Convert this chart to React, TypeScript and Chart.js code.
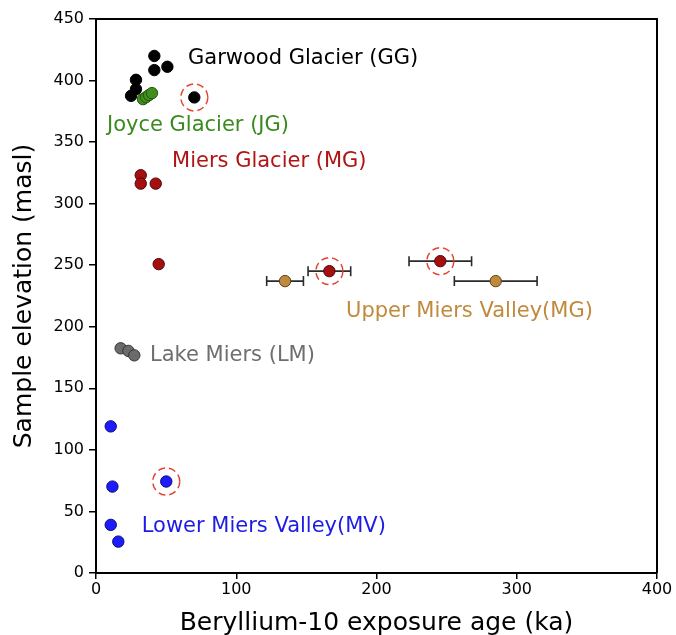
import React, { useEffect, useRef } from "react";
import { Chart, registerables } from "chart.js";

Chart.register(...registerables);

// ---- Data (Beryllium-10 exposure age in ka, sample elevation in masl) ----
const ggAge = [41.6, 41.6, 50.9, 28.5, 28.5, 25.0, 70.1];
const ggElev = [420.0, 408.5, 411.2, 400.6, 393.0, 387.6, 386.3];

const jgAge = [33.5, 35.7, 37.8, 39.9];
const jgElev = [384.9, 386.5, 388.2, 389.8];

const mgAge = [31.9, 31.9, 42.6, 44.7, 166.4, 245.5];
const mgElev = [323.1, 316.3, 316.3, 250.9, 245.2, 253.3];
const mgErr = [0, 0, 0, 0, 15.2, 22.3];

const umvAge = [134.8, 285.0];
const umvElev = [237.1, 237.1];
const umvErr = [13.1, 29.5];

const lmAge = [17.6, 23.1, 27.3];
const lmElev = [182.5, 180.4, 176.8];

const mvAge = [10.5, 11.7, 50.1, 10.5, 15.9];
const mvElev = [119.1, 70.2, 74.3, 39.1, 25.5];

// highlighted (dashed circle) samples: [series, index]
const highlighted: [string, number][] = [
  ["GG", 6],
  ["MG", 4],
  ["MG", 5],
  ["MV", 2],
];

// annotation labels, anchored at (age, elevation) = left end of the text baseline
const labelTexts = [
  "Garwood Glacier (GG)",
  "Joyce Glacier (JG)",
  "Miers Glacier (MG)",
  "Upper Miers Valley(MG)",
  "Lake Miers (LM)",
  "Lower Miers Valley(MV)",
];
const labelAge = [65.6, 7.8, 54.2, 178.3, 38.5, 32.6];
const labelElev = [413.4, 359.1, 329.6, 208.1, 172.0, 33.2];
const labelColors = ["#000000", "#3a8a1e", "#b01414", "#c08a3c", "#6e6e6e", "#1c1ce6"];

const xTitle = "Beryllium-10 exposure age (ka)";
const yTitle = "Sample elevation (masl)";

const FONT = "'DejaVu Sans', Verdana, sans-serif";

const series: Record<string, { age: number[]; elev: number[] }> = {
  GG: { age: ggAge, elev: ggElev },
  JG: { age: jgAge, elev: jgElev },
  MG: { age: mgAge, elev: mgElev },
  UMV: { age: umvAge, elev: umvElev },
  LM: { age: lmAge, elev: lmElev },
  MV: { age: mvAge, elev: mvElev },
};

const toPts = (a: number[], e: number[]) => a.map((v, i) => ({ x: v, y: e[i] }));

const errorBars: { age: number[]; elev: number[]; err: number[] }[] = [
  { age: mgAge, elev: mgElev, err: mgErr },
  { age: umvAge, elev: umvElev, err: umvErr },
];

const overlayPlugin = {
  id: "overlay",
  beforeDatasetsDraw(chart: any) {
    const { ctx, scales } = chart;
    const x = scales.x;
    const y = scales.y;
    ctx.save();
    ctx.strokeStyle = "#2a2a2a";
    ctx.lineWidth = 1.6;
    errorBars.forEach((s) => {
      s.age.forEach((a, i) => {
        const e = s.err[i];
        if (!e) return;
        const py = y.getPixelForValue(s.elev[i]);
        const x1 = x.getPixelForValue(a - e);
        const x2 = x.getPixelForValue(a + e);
        ctx.beginPath();
        ctx.moveTo(x1, py);
        ctx.lineTo(x2, py);
        ctx.moveTo(x1, py - 5);
        ctx.lineTo(x1, py + 5);
        ctx.moveTo(x2, py - 5);
        ctx.lineTo(x2, py + 5);
        ctx.stroke();
      });
    });
    ctx.restore();
  },
  afterDatasetsDraw(chart: any) {
    const { ctx, scales, chartArea } = chart;
    const x = scales.x;
    const y = scales.y;
    ctx.save();
    // frame top and right
    ctx.strokeStyle = "#000";
    ctx.lineWidth = 2;
    ctx.beginPath();
    ctx.moveTo(chartArea.left, chartArea.top);
    ctx.lineTo(chartArea.right, chartArea.top);
    ctx.lineTo(chartArea.right, chartArea.bottom);
    ctx.stroke();

    // dashed highlight circles
    ctx.strokeStyle = "#e4432f";
    ctx.lineWidth = 1.5;
    ctx.setLineDash([7, 4]);
    highlighted.forEach(([k, i]) => {
      const s = series[k];
      const px = x.getPixelForValue(s.age[i]);
      const py = y.getPixelForValue(s.elev[i]);
      ctx.beginPath();
      ctx.arc(px, py, 13.5, 0, Math.PI * 2);
      ctx.stroke();
    });
    ctx.setLineDash([]);

    // annotation labels
    ctx.font = `21px ${FONT}`;
    ctx.textBaseline = "alphabetic";
    ctx.textAlign = "left";
    labelTexts.forEach((t, i) => {
      ctx.fillStyle = labelColors[i];
      ctx.fillText(t, x.getPixelForValue(labelAge[i]), y.getPixelForValue(labelElev[i]));
    });

    // axis titles
    ctx.fillStyle = "#000";
    ctx.font = `25px ${FONT}`;
    ctx.textAlign = "center";
    ctx.fillText(xTitle, (chartArea.left + chartArea.right) / 2, 630);
    ctx.save();
    ctx.translate(31, (chartArea.top + chartArea.bottom) / 2);
    ctx.rotate(-Math.PI / 2);
    ctx.fillText(yTitle, 0, 0);
    ctx.restore();
    ctx.restore();
  },
};

function mkSet(label: string, a: number[], e: number[], bg: string, bd: string) {
  return {
    label,
    data: toPts(a, e),
    backgroundColor: bg,
    borderColor: bd,
    borderWidth: 1,
    pointRadius: 5.7,
    pointHoverRadius: 5.7,
    showLine: false,
  };
}

export default function App() {
  const ref = useRef<HTMLCanvasElement | null>(null);
  useEffect(() => {
    document.body.style.margin = "0";
    const canvas = ref.current;
    if (!canvas) return;
    const chart = new Chart(canvas, {
      type: "scatter",
      data: {
        datasets: [
          mkSet("Joyce Glacier (JG)", jgAge, jgElev, "#3f8e1e", "#24540f"),
          mkSet("Garwood Glacier (GG)", ggAge, ggElev, "#000000", "#000000"),
          mkSet("Miers Glacier (MG)", mgAge, mgElev, "#a50f0f", "#4e0808"),
          mkSet("Upper Miers Valley(MG)", umvAge, umvElev, "#c08a3c", "#5e421a"),
          mkSet("Lake Miers (LM)", lmAge, lmElev, "#6b6b6b", "#333333"),
          mkSet("Lower Miers Valley(MV)", mvAge, mvElev, "#1c1cff", "#0a0a70"),
        ],
      },
      options: {
        responsive: false,
        animation: false,
        layout: { padding: { top: 19, right: 19, left: 0, bottom: 0 } },
        plugins: {
          legend: { display: false },
          tooltip: { enabled: false },
        },
        scales: {
          x: {
            type: "linear",
            min: 0,
            max: 400,
            afterFit: (s: any) => {
              s.height = 62;
            },
            ticks: {
              stepSize: 100,
              color: "#000",
              font: { family: FONT, size: 16 },
              padding: 1,
              maxRotation: 0,
            },
            grid: {
              drawOnChartArea: false,
              drawTicks: true,
              tickLength: 6,
              color: "#000",
              lineWidth: 1.5,
            },
            border: { color: "#000", width: 2 },
          },
          y: {
            type: "linear",
            min: 0,
            max: 450,
            afterFit: (s: any) => {
              s.width = 96;
            },
            ticks: {
              stepSize: 50,
              color: "#000",
              font: { family: FONT, size: 16 },
              padding: 5,
            },
            grid: {
              drawOnChartArea: false,
              drawTicks: true,
              tickLength: 7,
              color: "#000",
              lineWidth: 1.5,
            },
            border: { color: "#000", width: 2 },
          },
        },
      },
      plugins: [overlayPlugin],
    });
    return () => chart.destroy();
  }, []);
  return <canvas ref={ref} width={676} height={635} style={{ display: "block" }} />;
}
